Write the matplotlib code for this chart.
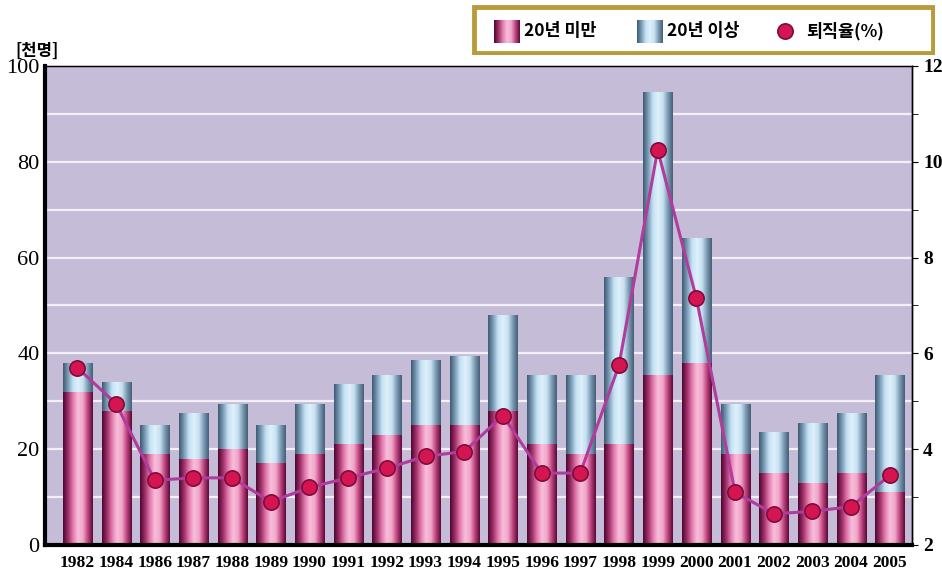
import matplotlib
matplotlib.use("Agg")
import matplotlib.pyplot as plt
import numpy as np
from matplotlib.colors import LinearSegmentedColormap
from matplotlib import patches

years = ['1982', '1984', '1986', '1987', '1988', '1989', '1990', '1991', '1992', '1993', '1994',
         '1995', '1996', '1997', '1998', '1999', '2000', '2001', '2002', '2003', '2004', '2005']
under20 = [32, 28, 19, 18, 20, 17, 19, 21, 23, 25, 25,
           28, 21, 19, 21, 35.5, 38, 19, 15, 13, 15, 11]
over20 = [6, 6, 6, 9.5, 9.5, 8, 10.5, 12.5, 12.5, 13.5, 14.5,
          20, 14.5, 16.5, 35, 59, 26, 10.5, 8.5, 12.5, 12.5, 24.5]
retire_rate = [5.7, 4.95, 3.35, 3.4, 3.4, 2.9, 3.2, 3.4, 3.6, 3.85, 3.95,
               4.7, 3.5, 3.5, 5.75, 10.25, 7.15, 3.1, 2.65, 2.7, 2.8, 3.45]

serif = ['Liberation Serif', 'DejaVu Serif']
kor = ['Noto Sans CJK KR', 'DejaVu Sans']

pink_cmap = LinearSegmentedColormap.from_list(
    'pink', ['#4e0630', '#a0306a', '#e37aac', '#f8c0dc', '#f2a6ca', '#c0457f', '#5a0a38'])
blue_cmap = LinearSegmentedColormap.from_list(
    'blue', ['#3e5a72', '#7c9db6', '#c4e2f4', '#dff0fb', '#c8e2f2', '#7d9cb4', '#445f76'])
grad = np.linspace(0, 1, 64).reshape(1, -1)


def gradient_bars(ax, bars, cmap):
    # paint each bar with a horizontal cylinder-like shading
    for b in bars:
        x, y = b.get_x(), b.get_y()
        w, h = b.get_width(), b.get_height()
        im = ax.imshow(grad, cmap=cmap, aspect='auto', extent=(x, x + w, y, y + h),
                       zorder=b.get_zorder(), interpolation='bicubic')
        im.set_clip_path(b)
        b.set_facecolor('none')
        b.set_edgecolor('none')


fig = plt.figure(figsize=(9.42, 5.73), dpi=100)
fig.patch.set_facecolor('white')
ax = fig.add_axes([0.048, 0.049, 0.920, 0.836])
ax.set_facecolor('#c5bdd8')

x = np.arange(len(years))
b1 = ax.bar(x, under20, width=0.75, zorder=2)
b2 = ax.bar(x, over20, width=0.75, bottom=under20, zorder=2)
gradient_bars(ax, b1, pink_cmap)
gradient_bars(ax, b2, blue_cmap)

ax.set_xlim(-0.83, len(years) - 0.43)
ax.set_ylim(0, 100)
ax.set_yticks(range(0, 101, 20))
ax.set_yticks(range(0, 101, 10), minor=True)
ax.grid(True, which='both', axis='y', color='#f4f0f8', linewidth=1.6, zorder=1)
ax.set_axisbelow(True)
ax.set_xticks(x)
ax.set_xticklabels(years)
ax.tick_params(axis='x', length=0, pad=7)
ax.tick_params(axis='y', which='both', length=0, pad=4)
for lab in ax.get_xticklabels():
    lab.set_fontfamily(serif)
    lab.set_fontweight('bold')
    lab.set_fontsize(12.5)
for lab in ax.get_yticklabels():
    lab.set_fontfamily(serif)
    lab.set_fontsize(16)
for side in ['left', 'bottom']:
    ax.spines[side].set_linewidth(3)
for side in ['top', 'right']:
    ax.spines[side].set_linewidth(1)

ax2 = ax.twinx()
ax2.set_ylim(2, 12)
ax2.set_yticks(range(2, 13, 2))
ax2.set_yticks(range(3, 12, 2), minor=True)
ax2.tick_params(axis='y', which='major', length=4, direction='out', pad=4)
ax2.tick_params(axis='y', which='minor', length=4, direction='out')
for lab in ax2.get_yticklabels():
    lab.set_fontfamily(serif)
    lab.set_fontweight('bold')
    lab.set_fontsize(14)
ax2.plot(x, retire_rate, color='#b03c9e', linewidth=2.2, zorder=3)
ax2.plot(x, retire_rate, linestyle='none', marker='o', markersize=11,
         markerfacecolor='#d51452', markeredgecolor='#7e0c3a', markeredgewidth=1.2, zorder=4)
ax2.spines['right'].set_linewidth(1)

fig.text(0.016, 0.911, '[천명]', fontfamily=kor, fontsize=12, fontweight='bold',
         ha='left', va='center')

# legend panel in the upper right
lax = fig.add_axes([0.501, 0.904, 0.4915, 0.087])
lax.axis('off')
lax.add_patch(patches.Rectangle((474, 7), 459, 46, fill=False, edgecolor='#b89c3c', linewidth=3.5))
lax.imshow(grad, cmap=pink_cmap, aspect='auto', extent=(494, 520, 43, 20), interpolation='bicubic')
lax.imshow(grad, cmap=blue_cmap, aspect='auto', extent=(637, 663, 43, 20), interpolation='bicubic')
lax.plot([785], [31], marker='o', markersize=11, markerfacecolor='#d51452',
         markeredgecolor='#7e0c3a', markeredgewidth=1.2)
lax.text(524, 31, '20년 미만', fontfamily=kor, fontsize=12.5, fontweight='bold', va='center')
lax.text(667, 31, '20년 이상', fontfamily=kor, fontsize=12.5, fontweight='bold', va='center')
lax.text(806, 31, '퇴직율(%)', fontfamily=kor, fontsize=12.5, fontweight='bold', va='center')
lax.set_xlim(472, 935)
lax.set_ylim(55, 5)

fig.savefig('out.png', dpi=100)
